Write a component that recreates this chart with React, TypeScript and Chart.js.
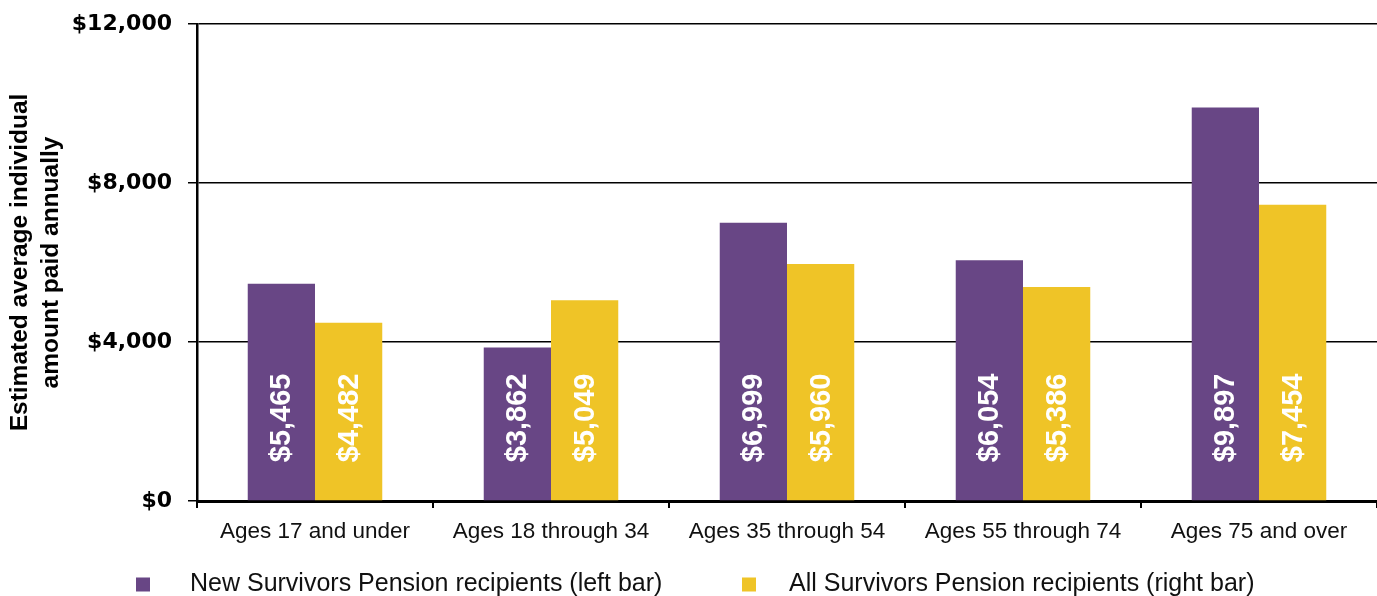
import React, { useEffect, useRef } from "react";
import { Chart, registerables } from "chart.js";

Chart.register(...registerables);

const categories = [
  "Ages 17 and under",
  "Ages 18 through 34",
  "Ages 35 through 54",
  "Ages 55 through 74",
  "Ages 75 and over",
];
const newRecipients = [5465, 3862, 6999, 6054, 9897];
const allRecipients = [4482, 5049, 5960, 5386, 7454];
const seriesNames = [
  "New Survivors Pension recipients (left bar)",
  "All Survivors Pension recipients (right bar)",
];
const yTitle = ["Estimated average individual", "amount paid annually"];
const yMax = 12000;
const yStep = 4000;

const PURPLE = "#684685";
const YELLOW = "#EFC427";

const fmt = (v: number) => "$" + Math.round(v).toLocaleString("en-US");

const barLabels = {
  id: "barLabels",
  afterDatasetsDraw(chart: any) {
    const ctx = chart.ctx;
    ctx.save();
    ctx.fillStyle = "#ffffff";
    ctx.font = "bold 29px 'Liberation Sans', Arial, sans-serif";
    ctx.textAlign = "left";
    ctx.textBaseline = "middle";
    chart.data.datasets.forEach((ds: any, di: number) => {
      const meta = chart.getDatasetMeta(di);
      meta.data.forEach((el: any, i: number) => {
        const props = el.getProps(["x", "base"], true);
        ctx.save();
        ctx.translate(props.x + 1, props.base - 38);
        ctx.rotate(-Math.PI / 2);
        ctx.fillText(fmt(ds.data[i]), 0, 0);
        ctx.restore();
      });
    });
    ctx.restore();
  },
};

const customLegend = {
  id: "customLegend",
  afterDraw(chart: any) {
    const ctx = chart.ctx;
    const colors = [PURPLE, YELLOW];
    const boxX = [136, 742];
    const textX = [190, 789];
    const cy = 584.5;
    ctx.save();
    ctx.font = "25px 'Liberation Sans', Arial, sans-serif";
    ctx.textBaseline = "middle";
    ctx.textAlign = "left";
    seriesNames.forEach((name, i) => {
      ctx.fillStyle = colors[i];
      ctx.fillRect(boxX[i], cy - 7, 14, 14);
      ctx.fillStyle = "#111111";
      ctx.fillText(name, textX[i], cy);
    });
    ctx.restore();
  },
};

export default function App() {
  const ref = useRef<HTMLCanvasElement | null>(null);

  useEffect(() => {
    if (!ref.current) return;
    const chart = new Chart(ref.current, {
      type: "bar",
      data: {
        labels: categories,
        datasets: [
          {
            label: seriesNames[0],
            data: newRecipients,
            backgroundColor: PURPLE,
            barPercentage: 1,
            categoryPercentage: 0.57,
          },
          {
            label: seriesNames[1],
            data: allRecipients,
            backgroundColor: YELLOW,
            barPercentage: 1,
            categoryPercentage: 0.57,
          },
        ],
      },
      options: {
        responsive: false,
        animation: false,
        devicePixelRatio: 1,
        layout: { padding: { top: 24, right: 0, left: 0, bottom: 0 } },
        plugins: {
          legend: { display: false },
          tooltip: { enabled: false },
        },
        scales: {
          x: {
            offset: true,
            grid: {
              drawOnChartArea: false,
              drawTicks: true,
              tickLength: 7,
              color: "#000000",
              lineWidth: 2,
              offset: true,
            },
            border: { display: true, color: "#000000", width: 3 },
            ticks: {
              color: "#111111",
              padding: 10,
              font: { family: "'Liberation Sans', Arial, sans-serif", size: 22.5 },
              maxRotation: 0,
              autoSkip: false,
            },
            afterFit: (s: any) => {
              s.height = 95;
              s.paddingLeft = 0;
              s.paddingRight = 0;
            },
          },
          y: {
            min: 0,
            max: yMax,
            ticks: {
              stepSize: yStep,
              padding: 16,
              color: "#000000",
              font: { family: "'DejaVu Sans', sans-serif", size: 22, weight: "bold" },
              callback: (v: any) => fmt(Number(v)),
            },
            grid: {
              color: "#000000",
              lineWidth: 1.5,
              drawTicks: true,
              tickLength: 9,
            },
            border: { display: true, color: "#000000", width: 2.5 },
            title: {
              display: true,
              text: yTitle,
              color: "#000000",
              font: {
                family: "'Liberation Sans', Arial, sans-serif",
                size: 24.5,
                weight: "bold",
                lineHeight: 1.25,
              },
              padding: { top: 5, bottom: 0 },
            },
            afterFit: (s: any) => {
              s.width = 197;
              s.paddingTop = 0;
              s.paddingBottom = 0;
            },
          },
        },
      },
      plugins: [barLabels, customLegend],
    });
    return () => chart.destroy();
  }, []);

  return (
    <div style={{ position: "fixed", left: 0, top: 0, width: 1377, height: 596, background: "#fff" }}>
      <canvas ref={ref} width={1377} height={596} style={{ width: 1377, height: 596, display: "block" }} />
    </div>
  );
}
